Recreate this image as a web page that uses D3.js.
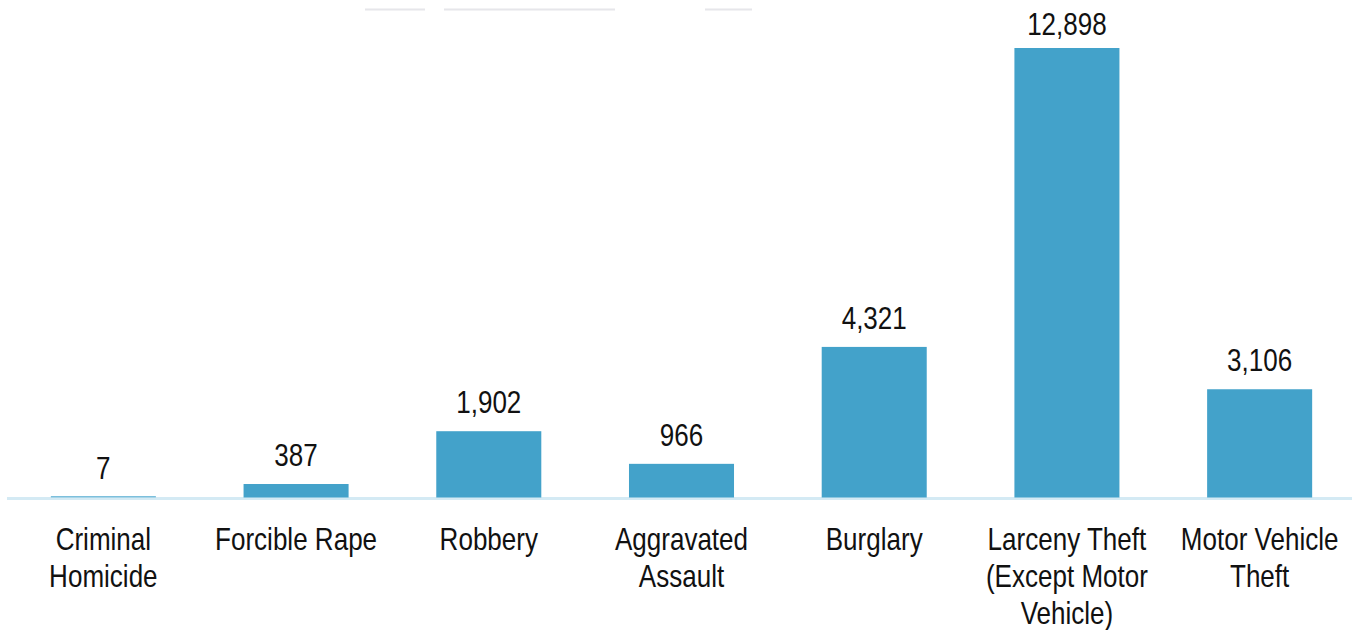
<!DOCTYPE html>
<html>
<head>
<meta charset="utf-8">
<script src="https://cdn.jsdelivr.net/npm/d3@7/dist/d3.min.js"></script>
<style>
  html, body { margin: 0; padding: 0; background: #fff; }
  svg { display: block; }
</style>
</head>
<body>
<svg id="chart" width="1356" height="630"></svg>
<script>
const categories = [
  "Criminal\nHomicide",
  "Forcible Rape",
  "Robbery",
  "Aggravated\nAssault",
  "Burglary",
  "Larceny Theft\n(Except Motor\nVehicle)",
  "Motor Vehicle\nTheft"
];
const values = [7, 387, 1902, 966, 4321, 12898, 3106];

const W = 1356, H = 630;
const svg = d3.select("#chart");

const x = d3.scaleBand()
  .domain(categories)
  .range([7, 1356])
  .paddingInner(0.455)
  .paddingOuter(0.2275);

const y = d3.scaleLinear()
  .domain([0, 12898])
  .range([497.5, 48]);

// faint remnant lines at the top
const topLines = [[365, 425], [444, 615], [705, 752]];
svg.selectAll("line.top").data(topLines).enter().append("line")
  .attr("x1", d => d[0]).attr("x2", d => d[1])
  .attr("y1", 9.5).attr("y2", 9.5)
  .attr("stroke", "#e6e6ea").attr("stroke-width", 2);

// axis line
svg.append("line")
  .attr("x1", 7).attr("x2", 1352)
  .attr("y1", 498.5).attr("y2", 498.5)
  .attr("stroke", "#d4eaf4").attr("stroke-width", 3);

// bars
svg.selectAll("rect.bar").data(values).enter().append("rect")
  .attr("class", "bar")
  .attr("x", (d, i) => x(categories[i]))
  .attr("width", x.bandwidth())
  .attr("y", d => Math.min(y(d), y(0) - 1.5))
  .attr("height", d => Math.max(y(0) - y(d), 1.5))
  .attr("fill", (d, i) => d < 50 ? "#7cbfdc" : "#43a2ca");

const fmt = d3.format(",");
const sx = 0.84;

// value labels
svg.selectAll("g.val").data(values).enter().append("g")
  .attr("transform", (d, i) => `translate(${x(categories[i]) + x.bandwidth() / 2},${Math.max(y(d) - 18, 35)}) scale(${sx},1)`)
  .append("text")
  .attr("text-anchor", "middle")
  .attr("font-family", "Liberation Sans, Arial, sans-serif")
  .attr("font-size", 31)
  .attr("fill", "#111")
  .text(d => fmt(d));

// category labels
const cat = svg.selectAll("g.cat").data(categories).enter().append("g")
  .attr("transform", d => `translate(${x(d) + x.bandwidth() / 2},550) scale(${sx},1)`);
cat.append("text")
  .attr("text-anchor", "middle")
  .attr("font-family", "Liberation Sans, Arial, sans-serif")
  .attr("font-size", 31)
  .attr("fill", "#111")
  .selectAll("tspan")
  .data(d => d.split("\n"))
  .enter().append("tspan")
  .attr("x", 0)
  .attr("y", (d, i) => i * 37)
  .text(d => d);
</script>
</body>
</html>
